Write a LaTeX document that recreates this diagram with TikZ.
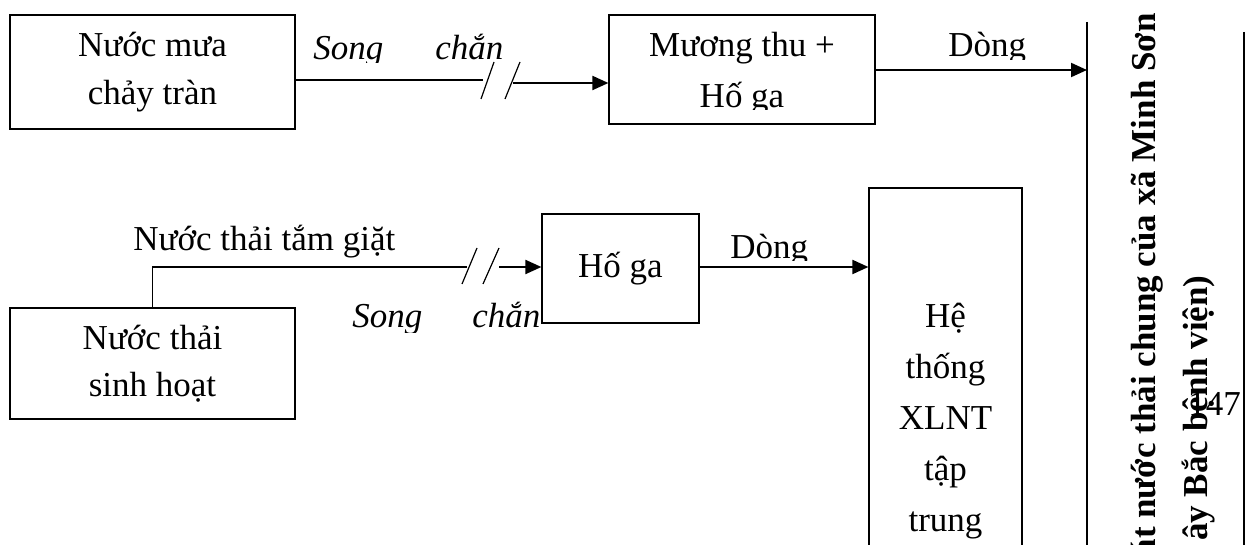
\documentclass[tikz,border=0pt]{standalone}
\usepackage{fontspec}
\setmainfont{Liberation Serif}
\usetikzlibrary{arrows.meta}
\begin{document}
\begin{tikzpicture}[x=0.5pt,y=-0.5pt,
  box/.style={draw, line width=0.6pt, inner sep=0pt, align=center},
  boxtxt/.style={inner sep=0pt, align=center},
  lbl/.style={inner sep=0pt, anchor=base west},
  ilbl/.style={lbl, font=\fontsize{17.5}{24}\selectfont\itshape},
  thinln/.style={line width=0.6pt},
  arr/.style={line width=1pt, -{Triangle[length=8pt,width=7pt]}},
  slashln/.style={line width=0.6pt},
  vline/.style={line width=0.65pt},
  vlab/.style={inner sep=0pt, rotate=90, anchor=base east, font=\fontsize{17.5}{24}\selectfont\bfseries},
  every node/.append style={font=\fontsize{17.5}{24}\selectfont}]
\clip (0,0) rectangle (1246,545);
\fill[white] (0,0) rectangle (1246,545);

% boxes
\node[box, minimum width=142.5pt, minimum height=57pt] (b1) at (152.5,72) {Nước mưa\\chảy tràn};
\node[box, minimum width=133pt, minimum height=54.5pt] (b2) at (742,69.5) {};
\begin{scope}
  \clip (609,15) rectangle (875,110);
  \node[boxtxt, anchor=base, font=\fontsize{17.5}{25.5}\selectfont] (b2t) at (742,108) {Mương thu +\\Hố ga};
\end{scope}
\node[box, minimum width=78.5pt, minimum height=54.5pt] (b3) at (620.5,268.5) {Hố ga};
\node[box, minimum width=142.5pt, minimum height=55.5pt, font=\fontsize{17.5}{23.5}\selectfont] (b4) at (152.5,363.5) {Nước thải\\sinh hoạt};
\node[box, minimum width=76.5pt, minimum height=233pt, font=\fontsize{17.5}{25.5}\selectfont] (b5) at (945.5,421) {Hệ\\thống\\XLNT\\tập\\trung};

% right collector
\coordinate (L1) at (1087,22);
\coordinate (L2) at (1087,560);
\coordinate (R1) at (1244,32);
\coordinate (R2) at (1244,560);
\draw[vline] (L1) -- (L2);
\draw[vline] (R1) -- (R2);
\node[vlab] (v1) at (1155,13) {át nước thải chung của xã Minh Sơn};
\node[vlab] (v2) at (1207,275) {ây Bắc bệnh viện)};
\node[lbl] (pg) at (1188,415) {147};

% top flow
\coordinate (s1a) at (483,80);
\coordinate (s1b) at (513,83);
\draw[thinln] (b1.east |- s1a) -- (s1a);
\draw[slashln] (481,99) -- (494,62);
\draw[slashln] (505,99) -- (520,62);
\draw[arr] (s1b) -- (b2.west |- s1b);
\begin{scope}
  \clip (0,0) rectangle (1246,63);
  \node[ilbl] (song1) at (313,60) {Song};
  \node[ilbl] (chan1) at (435,60) {chắn};
\end{scope}
\coordinate (d1) at (0,70);
\draw[arr] (b2.east |- d1) -- (L1 |- d1);
\begin{scope}
  \clip (0,0) rectangle (1246,60);
  \node[lbl] (dong1) at (948,57) {Dòng};
\end{scope}

% bottom flow
\coordinate (s2a) at (467,267);
\coordinate (s2b) at (499,267);
\draw[thinln] (b4.north) |- (s2a);
\draw[slashln] (462,284) -- (477,248);
\draw[slashln] (483,284) -- (499,248);
\draw[arr] (s2b) -- (b3.west |- s2b);
\node[lbl] (tam) at (133,250) {Nước thải tắm giặt};
\begin{scope}
  \clip (0,0) rectangle (1246,332);
  \node[ilbl] (song2) at (352,327) {Song};
  \node[ilbl] (chan2) at (472,327) {chắn};
\end{scope}
\coordinate (d2) at (0,267);
\draw[arr] (b3.east |- d2) -- (b5.west |- d2);
\begin{scope}
  \clip (0,0) rectangle (1246,260);
  \node[lbl] (dong2) at (730,258) {Dòng};
\end{scope}
\end{tikzpicture}
\end{document}
